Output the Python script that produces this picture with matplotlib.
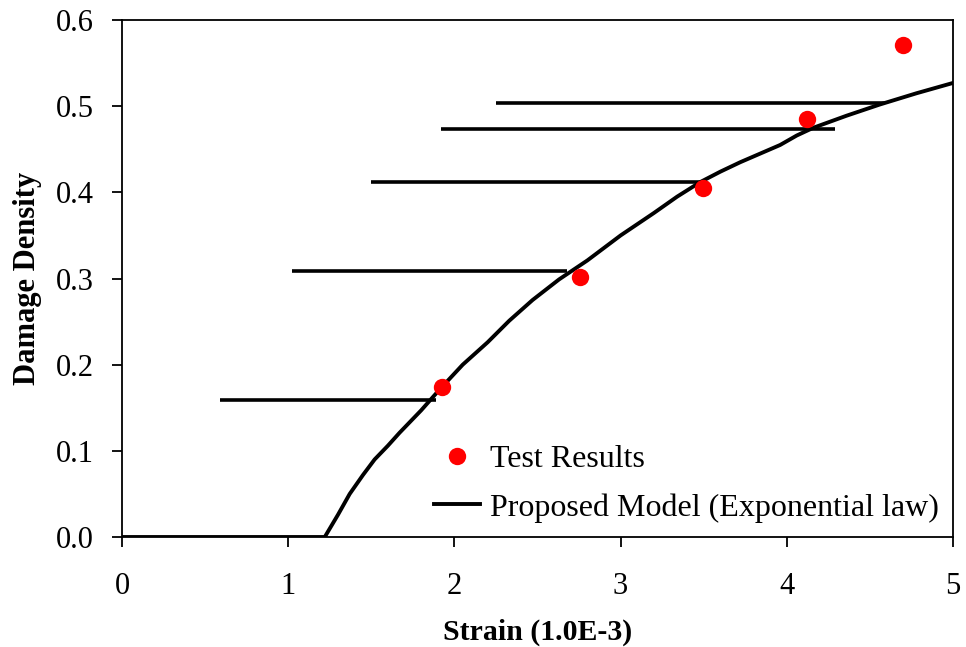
import numpy as np
import matplotlib.pyplot as plt

# model curve
model_strain = [0, 1.22, 1.30, 1.37, 1.45, 1.52, 1.60, 1.67, 1.80, 1.91, 2.05, 2.20, 2.33, 2.47, 2.63,
                2.80, 3.00, 3.20, 3.34, 3.48, 3.60, 3.72, 3.84, 3.96, 4.06, 4.16, 4.36, 4.56, 4.78, 5.0]
model_damage = [0, 0, 0.026, 0.050, 0.072, 0.090, 0.106, 0.121, 0.147, 0.171, 0.200, 0.226, 0.251, 0.275, 0.299,
                0.321, 0.350, 0.376, 0.395, 0.412, 0.424, 0.435, 0.445, 0.455, 0.466, 0.475, 0.489, 0.502, 0.515, 0.527]

# horizontal steps of the model
step_start = [0.59, 1.02, 1.50, 1.92, 2.25]
step_end = [1.89, 2.68, 3.48, 4.29, 4.59]
step_level = [0.159, 0.309, 0.412, 0.473, 0.504]

# test results
test_strain = [1.925, 2.756, 3.496, 4.12, 4.70]
test_damage = [0.174, 0.302, 0.405, 0.485, 0.571]

plt.rcParams['font.family'] = ['Liberation Serif', 'DejaVu Serif']

fig = plt.figure(figsize=(9.66, 6.47), dpi=100)
ax = fig.add_axes([0.1263, 0.170, 0.8602, 0.799])

ax.hlines(step_level, step_start, step_end, color='black', linewidth=2.6)
ax.plot(test_strain, test_damage, 'o', color='#ff0000', markersize=12.5,
        markeredgewidth=0, label='Test Results', zorder=3)
ax.plot(model_strain, model_damage, '-', color='black', linewidth=2.8,
        label='Proposed Model (Exponential law)')

ax.set_xlim(0, 5)
ax.set_ylim(0, 0.6)
ax.set_xticks(np.arange(0, 6, 1))
ax.set_yticks(np.arange(0, 0.61, 0.1))
ax.set_yticklabels([f'{v:.1f}' for v in np.arange(0, 0.61, 0.1)])
ax.tick_params(direction='out', length=7, width=1.3, labelsize=22)
ax.tick_params(axis='x', pad=18)
ax.tick_params(axis='y', pad=13)
for s in ax.spines.values():
    s.set_linewidth(1.3)

ax.set_xlabel('Strain (1.0E-3)', fontsize=21.5, fontweight='bold', labelpad=13)
ax.set_ylabel('Damage Density', fontsize=22, fontweight='bold', labelpad=10)

ax.legend(loc='lower right', frameon=False, fontsize=23, handlelength=1.45,
          handletextpad=0.3, borderaxespad=0.05, labelspacing=0.6)

fig.savefig('out.png', dpi=100)
